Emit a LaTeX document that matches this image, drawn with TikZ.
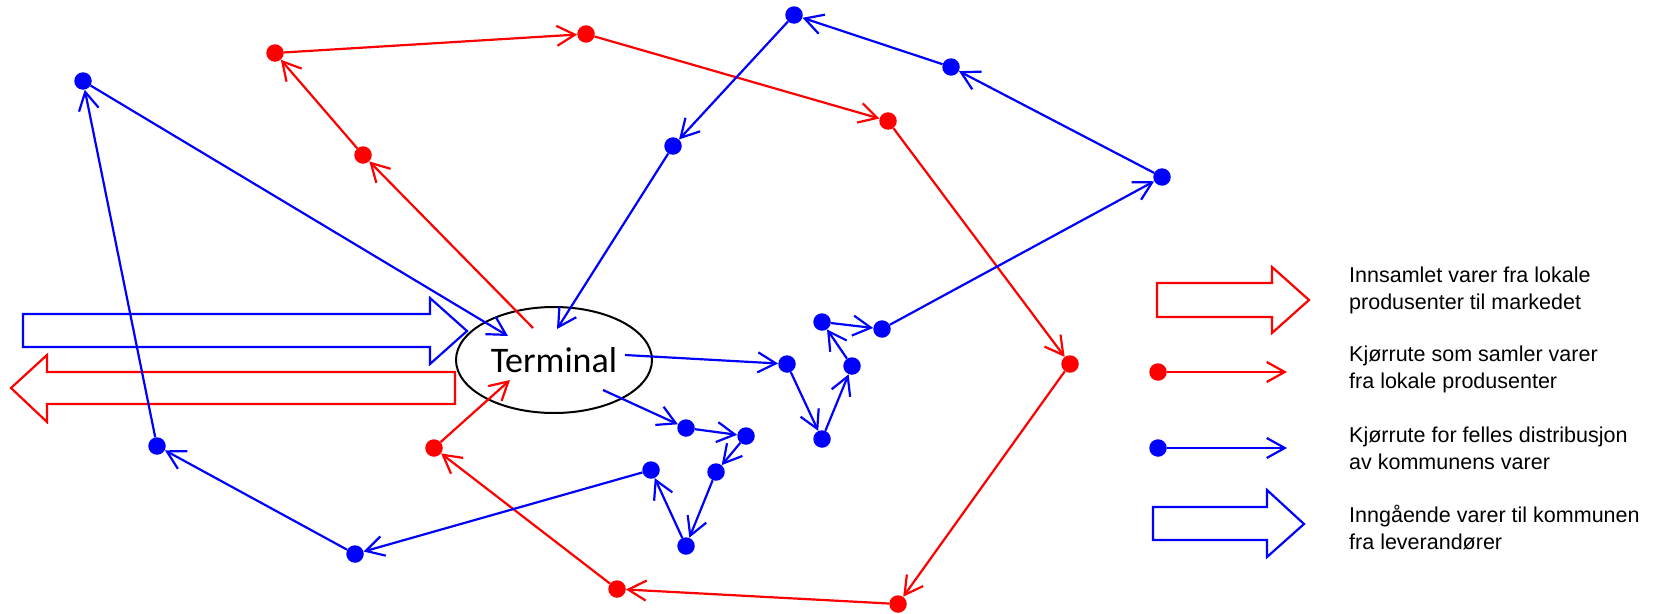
\documentclass[tikz,border=0pt]{standalone}
\usepackage{fontspec}
\setmainfont{Liberation Sans}
\newfontfamily\termfont{Carlito}
\usetikzlibrary{shapes.geometric,arrows.meta}

\tikzset{
  dotr/.style={circle,fill=red,inner sep=0pt,minimum size=17.5pt},
  dotb/.style={circle,fill=blue,inner sep=0pt,minimum size=17.5pt},
  route/.style={line width=2.2pt,-{Straight Barb[length=18pt,width=20pt]}},
  bigarrow/.style={line width=2.2pt,line join=miter},
  legtext/.style={anchor=north west,align=left,inner sep=0pt,font=\fontsize{21.5}{27}\selectfont}
}

\begin{document}
\begin{tikzpicture}[x=1pt,y=-1pt]
\useasboundingbox (0,0) rectangle (1659,613);

% goods in and out
\draw[bigarrow,blue] (23,314) -- (430,314) -- (430,298) -- (467,331) -- (430,364) -- (430,347) -- (23,347) -- cycle;
\draw[bigarrow,red] (455,372) -- (47,372) -- (47,355) -- (11,388) -- (47,422) -- (47,404) -- (455,404) -- cycle;

\node[draw,ellipse,line width=2pt,minimum width=196pt,minimum height=106pt,inner sep=0pt,
  font=\termfont\fontsize{36}{40}\selectfont] (term) at (554,360) {Terminal};

% ends inside the terminal
\coordinate (tr) at (533,328);
\coordinate (tr2) at (510,380);
\coordinate (ta) at (508,336);
\coordinate (te) at (603,390);
\coordinate (td) at (625,355);
\coordinate (tc) at (557,329);

% red route
\node[dotr] (r1) at (434,448) {};
\node[dotr] (r2) at (363,155) {};
\node[dotr] (r3) at (275,53) {};
\node[dotr] (r4) at (586,34) {};
\node[dotr] (r5) at (888,121) {};
\node[dotr] (r6) at (1070,364) {};
\node[dotr] (r7) at (898,604) {};
\node[dotr] (r8) at (617,589) {};
\foreach \a/\b in {tr/r2,r2/r3,r3/r4,r4/r5,r5/r6,r6/r7,r7/r8,r8/r1,r1/tr2}
  \draw[route,red] (\a) -- (\b);

% blue route, west
\node[dotb] (b1) at (83,81) {};
\node[dotb] (b2) at (157,446) {};
\node[dotb] (b3) at (355,554) {};
\node[dotb] (b4) at (651,470) {};
\node[dotb] (b5) at (686,546) {};
\node[dotb] (b6) at (716,472) {};
\node[dotb] (b7) at (746,436) {};
\node[dotb] (b8) at (686,428) {};
\foreach \a/\b in {te/b8,b8/b7,b7/b6,b6/b5,b5/b4,b4/b3,b3/b2,b2/b1,b1/ta}
  \draw[route,blue] (\a) -- (\b);

% blue route, east
\node[dotb] (c1) at (787,364) {};
\node[dotb] (c2) at (822,439) {};
\node[dotb] (c3) at (852,366) {};
\node[dotb] (c4) at (822,322) {};
\node[dotb] (c5) at (882,329) {};
\node[dotb] (c6) at (1162,177) {};
\node[dotb] (c7) at (951,67) {};
\node[dotb] (c8) at (794,15) {};
\node[dotb] (c9) at (673,146) {};
\foreach \a/\b in {td/c1,c1/c2,c2/c3,c3/c4,c4/c5,c5/c6,c6/c7,c7/c8,c8/c9,c9/tc}
  \draw[route,blue] (\a) -- (\b);

% legend
\draw[bigarrow,red] (1157,283) -- (1272,283) -- (1272,267) -- (1309,300) -- (1272,333) -- (1272,317) -- (1157,317) -- cycle;
\node[dotr] (legr) at (1158,372) {};
\coordinate (legr-end) at (1287,372);
\draw[route,red] (legr) -- (legr-end);
\node[dotb] (legb) at (1158,448) {};
\coordinate (legb-end) at (1287,448);
\draw[route,blue] (legb) -- (legb-end);
\draw[bigarrow,blue] (1153,507) -- (1267,507) -- (1267,490) -- (1304,524) -- (1267,557) -- (1267,540) -- (1153,540) -- cycle;

\node[legtext] (leg1) at (1349,267) {Innsamlet varer fra lokale\\produsenter til markedet};
\node[legtext] (leg2) at (1349,346) {Kjørrute som samler varer\\fra lokale produsenter};
\node[legtext] (leg3) at (1349,427) {Kjørrute for felles distribusjon\\av kommunens varer};
\node[legtext] (leg4) at (1349,505) {Inngående varer til kommunen\\fra leverandører};
\end{tikzpicture}
\end{document}
